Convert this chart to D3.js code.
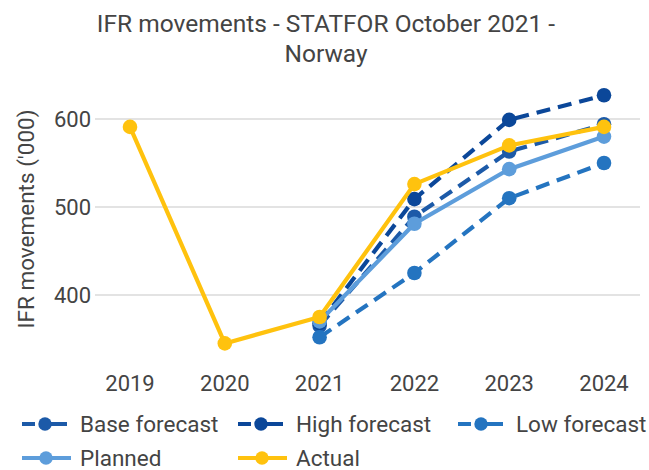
<!DOCTYPE html>
<html><head><meta charset="utf-8">
<script src="https://cdn.jsdelivr.net/npm/d3@7"></script>
<style>body{margin:0;background:#fff;font-family:Roboto,"Noto Sans",sans-serif;}</style>
</head><body><svg id="c" width="649" height="470"></svg>
<script>
const years = ["2019","2020","2021","2022","2023","2024"];
const yTicks = [400, 500, 600];
const baseForecast = [null, null, 365, 489, 563, 594];
const highForecast = [null, null, 368, 509, 599, 627];
const lowForecast  = [null, null, 352, 425, 510, 550];
const planned      = [null, null, 370, 481, 543, 580];
const actual       = [591, 345, 375, 526, 570, 591];
const seriesNames = ["Base forecast","High forecast","Low forecast","Planned","Actual"];

const series = [
  {name: seriesNames[0], values: baseForecast, color: "#1c5aa8", dash: "14,8"},
  {name: seriesNames[1], values: highForecast, color: "#0b4799", dash: "14,8"},
  {name: seriesNames[2], values: lowForecast,  color: "#2474c0", dash: "14,8"},
  {name: seriesNames[3], values: planned,      color: "#5d9ddb", dash: null},
  {name: seriesNames[4], values: actual,       color: "#ffc20e", dash: null}
];

const svg = d3.select("#c");
const x = d3.scalePoint().domain(years).range([130, 604]);
const y = d3.scaleLinear().domain([600, 500]).range([119, 207]);

// title
const title = svg.append("text").attr("text-anchor","middle")
  .attr("fill","#444").attr("font-size", 24.5);
title.append("tspan").attr("x",326).attr("y",32).text("IFR movements - STATFOR October 2021 -");
title.append("tspan").attr("x",326).attr("y",62).text("Norway");

// gridlines
const grid = svg.append("g");
yTicks.forEach(t => {
  grid.append("line").attr("x1", 95).attr("x2", 640).attr("y1", y(t)).attr("y2", y(t))
    .attr("stroke", "#dadada").attr("stroke-width", 1.3);
  grid.append("text").attr("x", 91).attr("y", y(t)).attr("dy","0.36em").attr("text-anchor","end")
    .attr("font-size", 22).attr("fill","#444").text(t);
});

// x labels
years.forEach(yr => {
  svg.append("text").attr("x", x(yr)).attr("y", 391).attr("text-anchor","middle")
    .attr("font-size", 22).attr("fill","#444").text(yr);
});

// y axis title
svg.append("text").attr("transform","translate(34,219) rotate(-90)").attr("text-anchor","middle")
  .attr("font-size", 22.5).attr("fill","#444").text("IFR movements ('000)");

const line = d3.line().defined(d => d.v != null).x(d => x(d.yr)).y(d => y(d.v));

series.forEach(s => {
  const pts = years.map((yr,i) => ({yr, v: s.values[i]}));
  const g = svg.append("g");
  g.append("path").attr("d", line(pts)).attr("fill","none").attr("stroke", s.color)
    .attr("stroke-width", 4.2).attr("stroke-dasharray", s.dash);
  g.selectAll("circle").data(pts.filter(d => d.v != null)).enter().append("circle")
    .attr("cx", d => x(d.yr)).attr("cy", d => y(d.v)).attr("r", 7.3).attr("fill", s.color);
});

// legend
const legPos = [[22,424],[238,424],[458,424],[22,458],[238,458]];
series.forEach((s,i) => {
  const [lx, ly] = legPos[i];
  const g = svg.append("g");
  if (s.dash) {
    g.append("line").attr("x1", lx).attr("x2", lx+13).attr("y1", ly).attr("y2", ly).attr("stroke", s.color).attr("stroke-width",4);
    g.append("line").attr("x1", lx+28).attr("x2", lx+45).attr("y1", ly).attr("y2", ly).attr("stroke", s.color).attr("stroke-width",4);
  } else {
    g.append("line").attr("x1", lx).attr("x2", lx+49).attr("y1", ly).attr("y2", ly).attr("stroke", s.color).attr("stroke-width",4);
  }
  g.append("circle").attr("cx", lx+(s.dash?23:24)).attr("cy", ly).attr("r", 6.7).attr("fill", s.color);
  g.append("text").attr("x", lx+58).attr("y", ly).attr("dy","0.36em").attr("font-size", 22.5).attr("fill","#444").text(s.name);
});
</script></body></html>
